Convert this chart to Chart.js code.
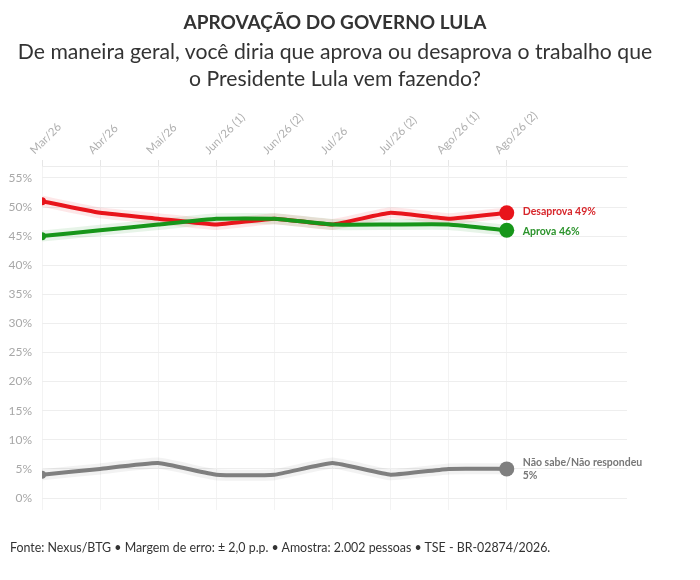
<!DOCTYPE html>
<html>
<head>
<meta charset="utf-8">
<script src="https://cdn.jsdelivr.net/npm/chart.js@4"></script>
<style>
  html, body { margin: 0; padding: 0; background: #fff; }
  body { width: 700px; height: 580px; position: relative; font-family: Lato, "Noto Sans", sans-serif; color: #333; overflow: hidden; }
  #title { position: absolute; top: 10px; left: 0; width: 670px; text-align: center; font-weight: 700; font-size: 19px; }
  #sub { position: absolute; top: 38px; left: 0; width: 670px; text-align: center; font-size: 21.2px; line-height: 27px; }
  #foot { position: absolute; top: 540px; left: 10px; font-size: 12.4px; color: #333; }
  #wrap { position: absolute; top: 0; left: 0; width: 700px; height: 580px; }
</style>
</head>
<body>
<div id="wrap"><canvas id="c"></canvas></div>
<div id="title">APROVAÇÃO DO GOVERNO LULA</div>
<div id="sub">De maneira geral, você diria que aprova ou desaprova o trabalho que<br>o Presidente Lula vem fazendo?</div>
<div id="foot">Fonte: Nexus/BTG • Margem de erro: ± 2,0 p.p. • Amostra: 2.002 pessoas • TSE - BR-02874/2026.</div>
<script>
// dados
const rodadas = ['Mar/26', 'Abr/26', 'Mai/26', 'Jun/26 (1)', 'Jun/26 (2)', 'Jul/26', 'Jul/26 (2)', 'Ago/26 (1)', 'Ago/26 (2)'];
const desaprova = [51, 49, 48, 47, 48, 47, 49, 48, 49];
const aprova = [45, 46, 47, 48, 48, 47, 47, 47, 46];
const naoSabe = [4, 5, 6, 4, 4, 6, 4, 5, 5];
const yTicks = [0, 5, 10, 15, 20, 25, 30, 35, 40, 45, 50, 55];

const last = rodadas.length - 1;
const pts = (arr) => arr.map((v, i) => ({ x: i, y: v }));
const radii = rodadas.map((_, i) => i === 0 ? 4 : i === last ? 7.5 : 0);

function serie(arr, color, order) {
  return {
    data: pts(arr), borderColor: color, backgroundColor: color,
    borderWidth: 4, tension: 0.12, pointRadius: radii, pointHoverRadius: radii,
    pointBorderWidth: 0, order,
  };
}
function brilho(arr, color, order) {
  return {
    data: pts(arr), borderColor: color, borderWidth: 11, tension: 0.12,
    pointRadius: 0, order,
  };
}

// rótulos no fim das linhas
const endLabels = {
  id: 'endLabels',
  afterDatasetsDraw(chart) {
    const { ctx, scales: { x, y } } = chart;
    const px = x.getPixelForValue(last) + 16;
    ctx.save();
    ctx.font = "bold 10.5px Lato, 'Noto Sans', sans-serif";
    ctx.textBaseline = 'middle';
    ctx.fillStyle = '#d7262b';
    ctx.fillText('Desaprova ' + desaprova[last] + '%', px, y.getPixelForValue(desaprova[last]) - 1);
    ctx.fillStyle = '#2b932b';
    ctx.fillText('Aprova ' + aprova[last] + '%', px, y.getPixelForValue(aprova[last]) + 1);
    ctx.fillStyle = '#777';
    const yn = y.getPixelForValue(naoSabe[last]);
    ctx.fillText('Não sabe/Não respondeu', px, yn - 6);
    ctx.fillText(naoSabe[last] + '%', px, yn + 7);
    ctx.restore();
  },
};

new Chart(document.getElementById('c'), {
  type: 'line',
  data: {
    datasets: [
      serie(aprova, '#17961a', 1),
      serie(desaprova, '#e8141b', 2),
      serie(naoSabe, '#7f7f7f', 3),
      brilho(aprova, 'rgba(23,150,26,0.10)', 4),
      brilho(desaprova, 'rgba(232,20,27,0.10)', 5),
      brilho(naoSabe, 'rgba(127,127,127,0.10)', 6),
    ],
  },
  options: {
    responsive: true, maintainAspectRatio: false, animation: false,
    layout: { padding: { top: 106, right: 73, bottom: 70, left: 0 } },
    plugins: { legend: { display: false }, tooltip: { enabled: false } },
    scales: {
      x: {
        type: 'linear', position: 'top', min: 0, max: 10.07,
        afterBuildTicks: (s) => { s.ticks = rodadas.map((_, i) => ({ value: i })); },
        afterFit: (s) => { s.height = 60; },
        ticks: {
          callback: (v) => rodadas[v], minRotation: 45, maxRotation: 45,
          color: '#b0b0b0', font: { family: "Lato, 'Noto Sans', sans-serif", size: 11.5 }, padding: 3,
        },
        grid: { color: '#f3f3f3', tickColor: '#e6e6e6', tickLength: 6 },
        border: { color: '#ececec' },
      },
      y: {
        min: -2.06, max: 57.05,
        afterBuildTicks: (s) => { s.ticks = yTicks.map((v) => ({ value: v })); },
        afterFit: (s) => { s.width = 42; },
        ticks: {
          callback: (v) => v + '%', color: '#a8a8a8', padding: 10,
          font: { family: "Lato, 'Noto Sans', sans-serif", size: 12 },
        },
        grid: { color: '#eeeeee', drawTicks: false },
        border: { display: false },
      },
    },
  },
  plugins: [endLabels],
});
</script>
</body>
</html>
